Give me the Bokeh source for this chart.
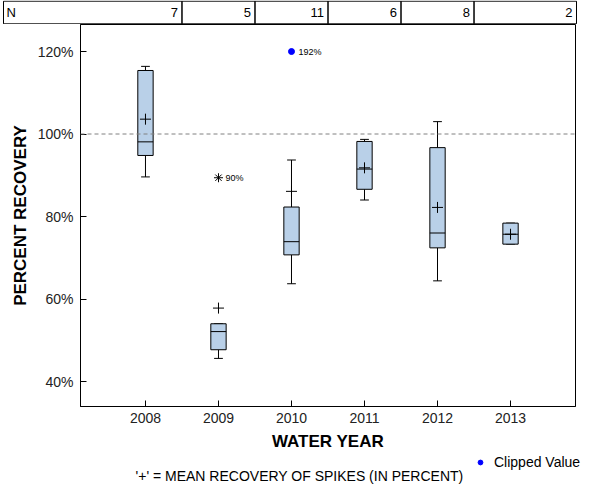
import numpy as np
from bokeh.plotting import figure
from bokeh.layouts import column
from bokeh.models import (Range1d, FixedTicker, Span, Label, Legend, LegendItem)
from bokeh.core.properties import value
from bokeh.embed import file_html
from bokeh.resources import INLINE

# ---------------- data ----------------
years = [2008, 2009, 2010, 2011, 2012, 2013]
n_counts = [7, 5, 11, 6, 8, 2]
whisker_high = [116.4, 54.0, 93.7, 98.7, 103.0, 78.4]
q3 = [115.4, 54.0, 82.3, 98.2, 96.7, 78.4]
median = [98.1, 52.1, 73.9, 91.5, 76.0, 75.7]
q1 = [94.8, 47.7, 70.7, 86.6, 72.4, 73.3]
whisker_low = [89.6, 45.6, 63.7, 84.0, 64.4, 73.3]
means = [103.6, 57.8, 86.1, 91.8, 82.2, 75.7]

outlier_year = [2009]
outlier_value = [89.4]
outlier_label = ["90%"]

clip_year = [2010]
clip_display = [120.0]
clip_label = ["192%"]

y_tick_values = [40, 60, 80, 100, 120]
y_tick_labels = ["40%", "60%", "80%", "100%", "120%"]
reference_level = 100

FONT = "Liberation Sans"
BOX_W = 0.21
CAP_W = 0.12
FILL = "#B9D0E8"
CLIP_COLOR = "#0000FF"

yrs = np.array(years, dtype=float)
X0, X1 = 2007.11, 2013.89          # main x range
PX_PER_YEAR = 495 / (X1 - X0)

# ---------------- N table (top strip) ----------------
t = figure(width=584, height=24,
           x_range=Range1d(X0 - 80 / PX_PER_YEAR, X1 + 9 / PX_PER_YEAR),
           y_range=Range1d(-0.03, 1.03),
           output_backend="svg", toolbar_location=None, min_border=0)
t.frame_align = False
t.axis.visible = False
t.grid.visible = False
t.outline_line_color = None

mids = list((yrs[:-1] + yrs[1:]) / 2)
cell_left = [X0 - 77 / PX_PER_YEAR] + mids
cell_right = mids + [X1 + 1 / PX_PER_YEAR]
t.quad(left=cell_left, right=cell_right, top=1, bottom=0,
       fill_color=None, line_color="black", line_width=1)
t.text(x=[cell_left[0]], y=[0.5], text=["N"], x_offset=3,
       text_font=value(FONT), text_font_size="13px", text_baseline="middle",
       text_align="left", text_color="black")
t.text(x=cell_right, y=[0.5] * len(years), text=[str(n) for n in n_counts],
       x_offset=-4, text_font=value(FONT), text_font_size="13px",
       text_baseline="middle", text_align="right", text_color="black")

# ---------------- main plot ----------------
p = figure(width=584, height=430,
           x_range=Range1d(X0, X1), y_range=Range1d(33.94, 126.55),
           output_backend="svg", toolbar_location=None,
           min_border_left=80, min_border_right=9, min_border_top=0,
           min_border_bottom=48)
p.frame_align = False
p.grid.visible = False
p.outline_line_color = "black"
p.outline_line_width = 1

p.xaxis.ticker = FixedTicker(ticks=years)
p.yaxis.ticker = FixedTicker(ticks=y_tick_values)
p.yaxis.major_label_overrides = {v: l for v, l in zip(y_tick_values, y_tick_labels)}
for ax in (p.xaxis[0], p.yaxis[0]):
    ax.major_tick_in = 6
    ax.major_tick_out = 0
    ax.minor_tick_line_color = None
    ax.axis_line_color = "black"
    ax.major_tick_line_color = "black"
    ax.major_label_text_font = FONT
    ax.major_label_text_font_size = "14px"
    ax.major_label_text_color = "#222222"
    ax.axis_label_text_font = FONT
    ax.axis_label_text_font_style = "bold"
    ax.axis_label_text_font_size = "17px"
    ax.axis_label_text_color = "black"
p.xaxis.axis_label = "WATER YEAR"
p.yaxis.axis_label = "PERCENT RECOVERY"
p.xaxis.major_label_standoff = 6
p.xaxis.axis_label_standoff = 6
p.yaxis.major_label_standoff = 7
p.yaxis.axis_label_standoff = 5

p.add_layout(Span(location=reference_level, dimension="width",
                  line_color="#808080", line_dash="4 3", line_width=1))

# whiskers
p.segment(x0=yrs, y0=q3, x1=yrs, y1=whisker_high, line_color="black", line_width=1)
p.segment(x0=yrs, y0=q1, x1=yrs, y1=whisker_low, line_color="black", line_width=1)
p.segment(x0=yrs - CAP_W / 2, y0=whisker_high, x1=yrs + CAP_W / 2, y1=whisker_high,
          line_color="black", line_width=1)
p.segment(x0=yrs - CAP_W / 2, y0=whisker_low, x1=yrs + CAP_W / 2, y1=whisker_low,
          line_color="black", line_width=1)
# boxes
p.vbar(x=yrs, width=BOX_W, top=q3, bottom=q1, fill_color=FILL,
       line_color="black", line_width=1)
p.segment(x0=yrs - BOX_W / 2, y0=median, x1=yrs + BOX_W / 2, y1=median,
          line_color="black", line_width=1)
# means
p.scatter(x=yrs, y=means, marker="cross", size=11, line_color="black", line_width=1)

# outlier
p.scatter(x=outlier_year, y=outlier_value, marker="asterisk", size=9,
          line_color="black", line_width=1)
p.text(x=outlier_year, y=outlier_value, text=outlier_label, x_offset=7,
       text_font=value(FONT), text_font_size="9px", text_baseline="middle",
       text_color="black")

# clipped value
p.scatter(x=clip_year, y=clip_display, marker="circle", size=6,
          fill_color=CLIP_COLOR, line_color=CLIP_COLOR)
p.text(x=clip_year, y=clip_display, text=clip_label, x_offset=7,
       text_font=value(FONT), text_font_size="9px", text_baseline="middle",
       text_color="black")

# ---------------- legend + footnote strip ----------------
b = figure(width=584, height=30, x_range=Range1d(0, 584), y_range=Range1d(0, 30),
           output_backend="svg", toolbar_location=None, min_border=0)
b.frame_align = False
b.axis.visible = False
b.grid.visible = False
b.outline_line_color = None
# same clipped-value point (lies outside this strip's view; used for the legend key)
legend_r = b.scatter(x=clip_year, y=clip_display, marker="circle", size=6,
                     fill_color=CLIP_COLOR, line_color=CLIP_COLOR)
legend = Legend(items=[LegendItem(label="Clipped Value", renderers=[legend_r])],
                location=(474, 14), orientation="vertical",
                glyph_width=12, glyph_height=14, label_standoff=8,
                padding=0, spacing=0, margin=0,
                label_text_font=FONT, label_text_font_size="14px",
                label_text_color="black",
                border_line_color=None, background_fill_alpha=0)
b.add_layout(legend)
b.add_layout(Label(x=299, y=9, x_units="screen", y_units="screen",
                   text="'+' = MEAN RECOVERY OF SPIKES (IN PERCENT)",
                   text_align="center", text_baseline="middle",
                   text_font=FONT, text_font_size="14px", text_color="black"))

layout = column(t, p, b, spacing=0)
open("out.html", "w").write(file_html(layout, INLINE))
